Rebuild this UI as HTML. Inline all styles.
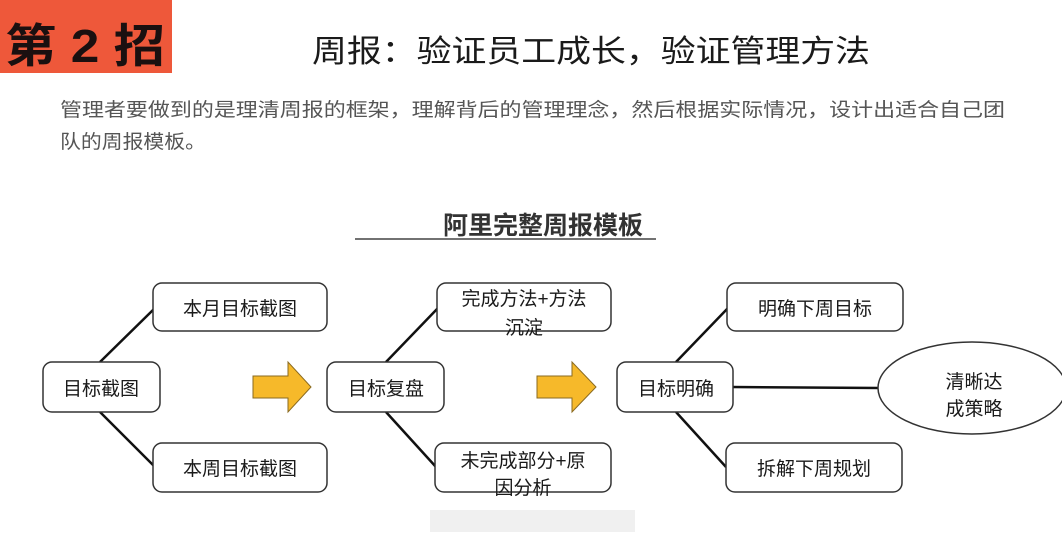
<!DOCTYPE html>
<html><head><meta charset="utf-8"><style>
html,body{margin:0;padding:0;background:#fff;}
svg{display:block;}
text{font-family:"Liberation Sans","Noto Sans CJK SC",sans-serif;}
</style></head><body>
<svg width="1062" height="550" viewBox="0 0 1062 550" xmlns="http://www.w3.org/2000/svg">
<rect width="1062" height="550" fill="#fff"/>
<rect x="0" y="0" width="172" height="73" fill="#ee583a"/>
<text x="5" y="62" font-size="46" font-weight="bold" fill="#1a1010" textLength="160" lengthAdjust="spacingAndGlyphs">第 2 招</text>
<text x="312" y="62" font-size="31" fill="#1a1a1a" textLength="558" lengthAdjust="spacingAndGlyphs">周报：验证员工成长，验证管理方法</text>
<text x="60" y="116" font-size="19" fill="#555" textLength="945" lengthAdjust="spacingAndGlyphs">管理者要做到的是理清周报的框架，理解背后的管理理念，然后根据实际情况，设计出适合自己团</text>
<text x="60" y="148" font-size="19" fill="#555" textLength="146" lengthAdjust="spacingAndGlyphs">队的周报模板。</text>
<text x="543" y="234" font-size="25" font-weight="bold" fill="#333" text-anchor="middle">阿里完整周报模板</text>
<line x1="355" y1="239" x2="656" y2="239" stroke="#444" stroke-width="1.5"/>
<g stroke="#111" stroke-width="2.5" fill="none">
<line x1="100" y1="362" x2="154" y2="309"/>
<line x1="100" y1="412" x2="154" y2="466"/>
<line x1="386" y1="362" x2="438" y2="308"/>
<line x1="386" y1="412" x2="436" y2="467"/>
<line x1="676" y1="362" x2="728" y2="308"/>
<line x1="676" y1="412" x2="726" y2="467"/>
<line x1="732" y1="387" x2="880" y2="388"/>
</g>
<g stroke="#333" stroke-width="1.5" fill="#fff">
<rect x="43" y="362" width="117" height="50" rx="9"/>
<rect x="153" y="283" width="174" height="48" rx="9"/>
<rect x="153" y="443" width="174" height="49" rx="9"/>
<rect x="327" y="362" width="117" height="50" rx="9"/>
<rect x="437" y="283" width="174" height="48" rx="9"/>
<rect x="435" y="443" width="176" height="49" rx="9"/>
<rect x="617" y="362" width="116" height="50" rx="9"/>
<rect x="727" y="283" width="176" height="48" rx="9"/>
<rect x="726" y="443" width="176" height="49" rx="9"/>
<ellipse cx="972" cy="388" rx="94" ry="46"/>
</g>
<g fill="#f6b92a" stroke="#8a6a20" stroke-width="1">
<polygon points="253,376 288,376 288,362 311,387 288,412 288,398 253,398"/>
<polygon points="537,376 572,376 572,362 596,387 572,412 572,398 537,398"/>
</g>
<g font-size="19" fill="#1a1a1a" text-anchor="middle">
<text x="101" y="395">目标截图</text>
<text x="240" y="315">本月目标截图</text>
<text x="240" y="475">本周目标截图</text>
<text x="386" y="395">目标复盘</text>
<text x="524" y="305">完成方法+方法</text>
<text x="524" y="334">沉淀</text>
<text x="523" y="467">未完成部分+原</text>
<text x="523" y="494">因分析</text>
<text x="676" y="395">目标明确</text>
<text x="815" y="315">明确下周目标</text>
<text x="814" y="475">拆解下周规划</text>
<text x="974" y="388">清晰达</text>
<text x="974" y="415">成策略</text>
</g>
<rect x="430" y="510" width="205" height="22" fill="#ececec" opacity="0.8"/>
</svg>
</body></html>
